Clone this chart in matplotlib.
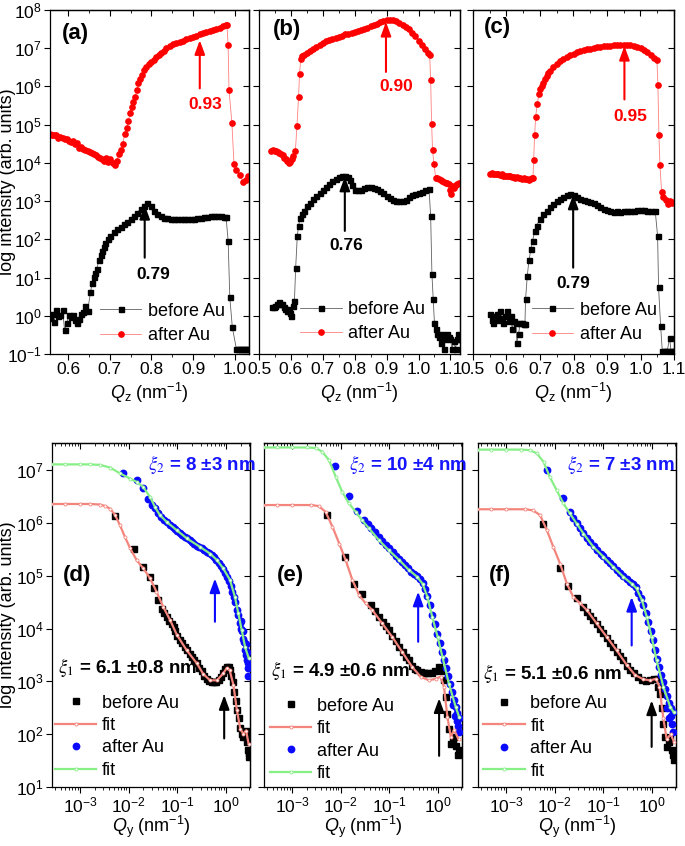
import numpy as np
import matplotlib
matplotlib.use('Agg')
import matplotlib.pyplot as plt
from matplotlib.ticker import (MultipleLocator, LogLocator, NullLocator, FixedLocator,
                               NullFormatter, FormatStrFormatter, LogFormatterSciNotation)

plt.rcParams['font.family'] = 'Liberation Sans'
plt.rcParams['mathtext.fontset'] = 'custom'
plt.rcParams['mathtext.rm'] = 'Liberation Sans'
plt.rcParams['mathtext.it'] = 'Liberation Sans:italic'
plt.rcParams['mathtext.bf'] = 'Liberation Sans:bold'
plt.rcParams['axes.linewidth'] = 0.9

# ---- top row: specular Qz scans, (Qz [nm^-1], log10 intensity) ----
a_before = np.array([(0.557,-0.05),(0.562,0.05),(0.567,-0.15),(0.572,0.15),(0.577,0.0),(0.582,0.02),(0.587,0.16),(0.592,-0.38),(0.597,-0.2),(0.602,0.03),(0.607,-0.02),(0.612,0.02),(0.617,-0.12),(0.622,-0.2),(0.627,-0.08),(0.632,0.05),(0.637,0.1),(0.642,0.25),(0.647,0.12),(0.654,0.61),(0.658,0.85),(0.662,1.02),(0.666,1.12),(0.669,1.22),(0.674,1.45),(0.679,1.58),(0.682,1.70),(0.686,1.80),(0.690,1.91),(0.696,2.00),(0.702,2.09),(0.710,2.18),(0.718,2.26),(0.726,2.33),(0.734,2.40),(0.742,2.46),(0.750,2.54),(0.758,2.62),(0.766,2.70),(0.774,2.79),(0.782,2.87),(0.790,2.96),(0.798,2.86),(0.806,2.74),(0.814,2.66),(0.822,2.61),(0.830,2.57),(0.838,2.55),(0.846,2.53),(0.854,2.52),(0.862,2.52),(0.870,2.52),(0.878,2.52),(0.886,2.52),(0.894,2.53),(0.902,2.54),(0.910,2.56),(0.918,2.57),(0.926,2.58),(0.934,2.59),(0.942,2.60),(0.950,2.61),(0.958,2.61),(0.966,2.60),(0.974,2.59),(0.979,2.58),(0.984,1.96),(0.988,0.48),(0.994,-0.30),(1.004,-0.88),(1.008,-0.88),(1.012,-0.88),(1.016,-0.88),(1.020,-0.88),(1.024,-0.88),(1.028,-0.88),(1.032,-0.88)])
a_after = np.array([(0.557,4.76),(0.562,4.74),(0.567,4.72),(0.572,4.73),(0.577,4.66),(0.582,4.67),(0.587,4.64),(0.592,4.62),(0.597,4.63),(0.602,4.58),(0.607,4.55),(0.612,4.57),(0.617,4.50),(0.622,4.52),(0.627,4.40),(0.632,4.42),(0.637,4.36),(0.642,4.35),(0.647,4.30),(0.652,4.28),(0.657,4.25),(0.662,4.22),(0.667,4.20),(0.672,4.16),(0.677,4.12),(0.682,4.10),(0.687,4.06),(0.692,4.14),(0.697,4.02),(0.702,4.10),(0.707,4.00),(0.712,3.95),(0.717,4.05),(0.722,4.23),(0.727,4.35),(0.731,4.50),(0.736,4.75),(0.741,4.91),(0.745,5.10),(0.749,5.30),(0.753,5.45),(0.757,5.60),(0.761,5.72),(0.765,5.90),(0.769,6.08),(0.773,6.20),(0.777,6.30),(0.782,6.42),(0.788,6.50),(0.794,6.58),(0.800,6.63),(0.806,6.69),(0.812,6.76),(0.818,6.82),(0.824,6.88),(0.830,6.93),(0.836,7.00),(0.844,7.05),(0.852,7.10),(0.860,7.13),(0.868,7.17),(0.876,7.20),(0.884,7.23),(0.892,7.26),(0.900,7.30),(0.908,7.33),(0.916,7.37),(0.924,7.40),(0.932,7.42),(0.940,7.44),(0.948,7.47),(0.956,7.50),(0.964,7.54),(0.972,7.58),(0.978,7.61),(0.981,7.62),(0.984,7.08),(0.986,5.92),(0.993,5.05),(0.998,3.97),(1.004,3.81),(1.012,3.68),(1.020,3.51),(1.026,3.56),(1.032,3.65)])
b_before = np.array([(0.541,0.22),(0.546,0.24),(0.551,0.25),(0.556,0.30),(0.562,0.35),(0.567,0.30),(0.572,0.30),(0.577,0.22),(0.583,0.18),(0.588,0.13),(0.593,0.18),(0.597,0.08),(0.601,0.00),(0.606,0.26),(0.611,0.39),(0.615,1.26),(0.620,2.09),(0.624,2.35),(0.629,2.57),(0.634,2.66),(0.640,2.74),(0.650,2.86),(0.660,2.96),(0.670,3.05),(0.680,3.13),(0.690,3.21),(0.700,3.29),(0.710,3.38),(0.720,3.45),(0.730,3.52),(0.740,3.57),(0.750,3.62),(0.760,3.65),(0.770,3.67),(0.780,3.64),(0.785,3.55),(0.790,3.42),(0.800,3.30),(0.810,3.28),(0.820,3.30),(0.830,3.34),(0.840,3.37),(0.850,3.37),(0.860,3.35),(0.870,3.31),(0.880,3.26),(0.890,3.20),(0.900,3.13),(0.910,3.07),(0.920,3.03),(0.930,3.00),(0.940,2.99),(0.950,3.00),(0.960,3.04),(0.970,3.10),(0.980,3.15),(0.990,3.19),(1.000,3.22),(1.010,3.25),(1.020,3.28),(1.033,3.31),(1.038,2.61),(1.042,1.09),(1.046,0.44),(1.050,-0.20),(1.054,-0.35),(1.058,-0.48),(1.064,-0.55),(1.069,-0.70),(1.074,-0.48),(1.079,-0.87),(1.084,-0.60),(1.090,-0.48),(1.095,-0.55),(1.100,-0.60),(1.105,-0.87),(1.110,-0.65),(1.116,-0.87),(1.120,-0.60),(1.124,-0.48),(1.128,-0.60)])
b_after = np.array([(0.539,4.32),(0.544,4.33),(0.549,4.31),(0.554,4.30),(0.559,4.28),(0.564,4.27),(0.569,4.24),(0.574,4.20),(0.579,4.14),(0.584,4.10),(0.589,4.05),(0.594,4.00),(0.598,4.03),(0.603,4.10),(0.608,4.18),(0.614,4.31),(0.619,4.97),(0.624,5.73),(0.627,6.32),(0.631,6.73),(0.636,6.80),(0.640,6.82),(0.650,6.87),(0.660,6.93),(0.670,6.99),(0.680,7.04),(0.690,7.09),(0.700,7.14),(0.710,7.18),(0.720,7.21),(0.730,7.24),(0.740,7.27),(0.750,7.30),(0.760,7.33),(0.770,7.36),(0.780,7.38),(0.790,7.41),(0.800,7.43),(0.810,7.46),(0.820,7.48),(0.830,7.51),(0.840,7.54),(0.850,7.58),(0.860,7.61),(0.870,7.64),(0.880,7.68),(0.890,7.71),(0.900,7.73),(0.910,7.74),(0.920,7.73),(0.930,7.71),(0.940,7.67),(0.950,7.62),(0.960,7.56),(0.970,7.49),(0.980,7.41),(0.990,7.31),(1.000,7.20),(1.010,7.09),(1.020,6.98),(1.030,6.88),(1.035,6.82),(1.038,6.16),(1.041,5.03),(1.044,4.35),(1.048,3.98),(1.054,3.61),(1.059,3.60),(1.064,3.57),(1.069,3.55),(1.074,3.52),(1.079,3.50),(1.085,3.48),(1.090,3.47),(1.095,3.45),(1.100,3.30),(1.103,3.18),(1.106,3.40),(1.110,3.35),(1.116,3.42),(1.121,3.45),(1.127,3.47)])
c_before = np.array([(0.551,0.04),(0.556,-0.10),(0.561,-0.18),(0.566,0.00),(0.571,0.04),(0.576,-0.10),(0.581,0.13),(0.586,-0.05),(0.590,-0.18),(0.596,0.00),(0.602,0.13),(0.607,-0.13),(0.612,0.00),(0.617,-0.35),(0.622,-0.13),(0.628,-0.18),(0.631,-0.70),(0.636,-0.48),(0.641,-0.18),(0.646,-0.20),(0.651,-0.22),(0.655,-0.22),(0.657,0.44),(0.662,1.04),(0.667,1.45),(0.673,1.74),(0.678,1.96),(0.684,2.22),(0.690,2.36),(0.700,2.53),(0.710,2.65),(0.720,2.74),(0.730,2.84),(0.740,2.92),(0.750,2.99),(0.760,3.06),(0.770,3.11),(0.780,3.15),(0.790,3.18),(0.800,3.17),(0.810,3.12),(0.820,3.06),(0.830,3.02),(0.840,3.00),(0.850,2.98),(0.860,2.95),(0.870,2.89),(0.880,2.84),(0.890,2.80),(0.900,2.77),(0.910,2.73),(0.920,2.72),(0.930,2.73),(0.940,2.72),(0.950,2.73),(0.960,2.74),(0.970,2.74),(0.980,2.75),(0.990,2.76),(1.000,2.76),(1.010,2.76),(1.020,2.75),(1.030,2.74),(1.044,2.74),(1.051,2.09),(1.054,0.74),(1.060,-0.26),(1.065,-0.91),(1.070,-0.91),(1.075,-0.91),(1.080,-0.91),(1.087,-0.58),(1.091,-0.91),(1.095,-0.91),(1.099,-0.91)])
c_after = np.array([(0.551,3.72),(0.556,3.73),(0.561,3.72),(0.566,3.71),(0.571,3.72),(0.576,3.70),(0.581,3.69),(0.586,3.70),(0.591,3.67),(0.596,3.66),(0.601,3.67),(0.606,3.65),(0.611,3.66),(0.616,3.63),(0.621,3.62),(0.626,3.61),(0.631,3.63),(0.636,3.60),(0.641,3.61),(0.646,3.58),(0.651,3.60),(0.656,3.57),(0.661,3.58),(0.666,3.56),(0.671,3.57),(0.676,3.60),(0.679,3.61),(0.681,4.07),(0.684,4.72),(0.687,5.20),(0.692,5.55),(0.697,5.81),(0.701,5.94),(0.705,6.02),(0.710,6.10),(0.715,6.20),(0.720,6.28),(0.725,6.35),(0.730,6.40),(0.740,6.50),(0.750,6.59),(0.760,6.66),(0.770,6.72),(0.780,6.77),(0.790,6.82),(0.800,6.86),(0.810,6.89),(0.820,6.92),(0.830,6.95),(0.840,6.97),(0.850,6.99),(0.860,7.01),(0.870,7.03),(0.880,7.04),(0.890,7.05),(0.900,7.06),(0.910,7.07),(0.920,7.08),(0.930,7.085),(0.940,7.09),(0.950,7.09),(0.960,7.09),(0.970,7.08),(0.980,7.06),(0.990,7.03),(1.000,7.00),(1.010,6.95),(1.020,6.89),(1.030,6.82),(1.040,6.74),(1.049,6.69),(1.052,6.03),(1.055,4.72),(1.058,3.94),(1.063,3.25),(1.068,3.12),(1.075,3.03),(1.082,2.93),(1.088,2.99),(1.095,2.95),(1.099,2.97)])

# ---- bottom row: off-specular Qy cuts, (log10 Qy, log10 intensity) ----
d_before = np.array([(-2.28,6.13),(-1.90,5.50),(-1.70,5.17),(-1.56,4.98),(-1.48,4.76),(-1.39,4.54),(-1.32,4.38),(-1.27,4.30),(-1.22,4.22),(-1.17,4.15),(-1.12,4.08),(-1.08,4.03),(-1.04,3.95),(-1.00,3.86),(-0.95,3.78),(-0.90,3.72),(-0.85,3.65),(-0.80,3.59),(-0.75,3.52),(-0.70,3.46),(-0.65,3.40),(-0.60,3.34),(-0.55,3.26),(-0.50,3.19),(-0.45,3.11),(-0.40,3.05),(-0.35,3.00),(-0.30,2.98),(-0.25,2.98),(-0.20,2.99),(-0.15,3.02),(-0.10,3.08),(-0.06,3.15),(-0.02,3.23),(0.02,3.28),(0.05,3.27),(0.08,3.22),(0.11,3.10),(0.14,2.98),(0.17,2.80),(0.20,2.62),(0.23,2.45),(0.26,2.30),(0.29,2.12),(0.32,2.00),(0.35,1.95),(0.38,2.02),(0.41,2.06),(0.43,1.86),(0.44,1.95),(0.45,1.70),(0.46,1.65),(0.47,1.57)])
d_fit1 = np.array([(-3.60,6.36),(-3.30,6.36),(-3.00,6.36),(-2.80,6.36),(-2.59,6.35),(-2.48,6.32),(-2.38,6.27),(-2.28,6.15),(-2.18,5.96),(-2.08,5.74),(-1.97,5.52),(-1.84,5.30),(-1.70,5.14),(-1.56,4.95),(-1.43,4.70),(-1.29,4.41),(-1.15,4.16),(-1.01,3.88),(-0.81,3.59),(-0.60,3.34),(-0.47,3.14),(-0.33,3.02),(-0.19,3.02),(-0.06,3.15),(0.01,3.25),(0.07,3.22),(0.15,2.93),(0.22,2.46),(0.29,2.10),(0.35,2.01),(0.41,2.07),(0.46,1.82)])
d_after = np.array([(-2.11,6.95),(-1.84,6.81),(-1.70,6.66),(-1.60,6.46),(-1.53,6.34),(-1.46,6.28),(-1.40,6.18),(-1.34,6.12),(-1.28,6.06),(-1.22,6.02),(-1.16,5.97),(-1.10,5.92),(-1.05,5.88),(-1.00,5.85),(-0.95,5.81),(-0.90,5.77),(-0.85,5.74),(-0.80,5.71),(-0.75,5.68),(-0.70,5.64),(-0.65,5.61),(-0.60,5.57),(-0.55,5.55),(-0.50,5.52),(-0.45,5.49),(-0.40,5.46),(-0.35,5.43),(-0.30,5.40),(-0.25,5.35),(-0.20,5.30),(-0.15,5.24),(-0.10,5.18),(-0.06,5.13),(-0.02,5.06),(0.02,4.98),(0.06,4.90),(0.10,4.80),(0.13,4.70),(0.16,4.60),(0.19,4.50),(0.22,4.35),(0.25,4.25),(0.28,4.10),(0.30,4.00),(0.30,4.15),(0.32,3.95),(0.34,3.80),(0.35,3.95),(0.36,3.75),(0.38,3.60),(0.40,3.50),(0.40,3.70),(0.42,3.40),(0.43,3.55),(0.44,3.25),(0.45,3.10),(0.45,3.35)])
d_fit2 = np.array([(-3.60,7.11),(-3.30,7.11),(-3.00,7.11),(-2.80,7.11),(-2.59,7.10),(-2.38,7.05),(-2.18,6.94),(-1.97,6.84),(-1.84,6.78),(-1.70,6.68),(-1.56,6.49),(-1.46,6.30),(-1.36,6.15),(-1.22,6.02),(-1.01,5.86),(-0.81,5.71),(-0.54,5.55),(-0.33,5.42),(-0.19,5.30),(-0.06,5.14),(0.08,4.92),(0.18,4.60),(0.25,4.29),(0.32,3.97),(0.39,3.65),(0.46,3.45)])

e_before = np.array([(-2.29,6.15),(-1.91,5.35),(-1.73,4.84),(-1.56,4.65),(-1.38,4.44),(-1.30,4.34),(-1.21,4.22),(-1.14,4.13),(-1.07,4.05),(-1.01,3.97),(-0.94,3.86),(-0.87,3.76),(-0.80,3.65),(-0.73,3.56),(-0.66,3.47),(-0.60,3.40),(-0.53,3.30),(-0.47,3.24),(-0.43,3.21),(-0.36,3.17),(-0.30,3.15),(-0.26,3.15),(-0.20,3.15),(-0.12,3.15),(-0.06,3.20),(0.02,3.28),(0.07,3.20),(0.12,3.02),(0.16,2.70),(0.19,2.39),(0.22,2.10),(0.26,1.82),(0.30,1.88),(0.33,1.95),(0.37,1.78),(0.40,1.60),(0.42,1.70)])
e_fit1 = np.array([(-3.60,6.34),(-3.30,6.34),(-3.00,6.34),(-2.60,6.34),(-2.45,6.32),(-2.31,6.21),(-2.17,5.93),(-2.03,5.61),(-1.90,5.30),(-1.76,4.92),(-1.62,4.63),(-1.49,4.48),(-1.35,4.35),(-1.15,4.10),(-0.94,3.84),(-0.74,3.56),(-0.53,3.27),(-0.36,3.09),(-0.19,3.02),(-0.05,3.05),(0.05,3.09),(0.12,2.90),(0.19,2.33),(0.26,1.95),(0.33,2.08),(0.42,1.90)])
e_after = np.array([(-2.12,7.08),(-1.84,6.51),(-1.66,6.23),(-1.52,6.05),(-1.45,5.98),(-1.38,5.90),(-1.30,5.82),(-1.22,5.73),(-1.15,5.66),(-1.08,5.59),(-1.00,5.52),(-0.93,5.45),(-0.86,5.38),(-0.80,5.32),(-0.74,5.26),(-0.68,5.20),(-0.62,5.14),(-0.56,5.08),(-0.50,5.03),(-0.44,4.99),(-0.38,4.94),(-0.32,4.87),(-0.27,4.75),(-0.22,4.62),(-0.17,4.45),(-0.12,4.26),(-0.07,4.08),(-0.02,3.90),(0.03,3.72),(0.08,3.55),(0.12,3.40),(0.16,3.25),(0.20,3.10),(0.24,2.95),(0.28,2.80),(0.30,2.55),(0.32,2.65),(0.35,2.35),(0.36,2.52),(0.38,2.25),(0.39,2.40),(0.40,2.15),(0.42,2.30),(0.42,2.05)])
e_fit2 = np.array([(-3.60,7.43),(-3.30,7.43),(-3.00,7.43),(-2.70,7.43),(-2.51,7.42),(-2.38,7.35),(-2.24,7.19),(-2.10,6.87),(-1.97,6.59),(-1.83,6.37),(-1.69,6.21),(-1.56,6.05),(-1.42,5.90),(-1.21,5.67),(-1.01,5.48),(-0.80,5.30),(-0.60,5.11),(-0.43,4.98),(-0.32,4.85),(-0.22,4.60),(-0.12,4.22),(-0.01,3.84),(0.09,3.46),(0.22,2.96),(0.36,2.52),(0.43,2.33)])

f_before = np.array([(-2.25,5.99),(-1.89,5.15),(-1.72,4.80),(-1.55,4.57),(-1.41,4.41),(-1.34,4.32),(-1.27,4.24),(-1.21,4.16),(-1.14,4.08),(-1.07,4.00),(-1.00,3.91),(-0.93,3.82),(-0.86,3.73),(-0.80,3.65),(-0.73,3.56),(-0.66,3.48),(-0.59,3.40),(-0.52,3.30),(-0.45,3.22),(-0.38,3.15),(-0.30,3.08),(-0.21,3.02),(-0.12,3.01),(-0.04,3.02),(0.04,3.04),(0.09,3.04),(0.13,2.90),(0.16,2.77),(0.20,2.50),(0.23,2.20),(0.27,1.95),(0.30,1.76),(0.34,1.85),(0.37,1.92),(0.40,1.70),(0.42,1.60),(0.44,1.51)])
f_fit1 = np.array([(-3.60,6.26),(-3.30,6.26),(-3.00,6.26),(-2.60,6.26),(-2.45,6.24),(-2.30,6.15),(-2.16,5.86),(-2.03,5.55),(-1.89,5.23),(-1.75,4.85),(-1.62,4.60),(-1.48,4.48),(-1.34,4.35),(-1.14,4.10),(-0.93,3.84),(-0.73,3.59),(-0.52,3.31),(-0.35,3.12),(-0.18,3.04),(-0.04,3.02),(0.08,3.05),(0.15,2.90),(0.23,2.30),(0.30,1.90),(0.38,2.00),(0.45,1.85)])
f_after = np.array([(-2.15,7.00),(-1.84,6.48),(-1.69,6.21),(-1.62,6.10),(-1.55,6.00),(-1.48,5.90),(-1.41,5.81),(-1.34,5.72),(-1.27,5.64),(-1.20,5.56),(-1.13,5.49),(-1.06,5.42),(-1.00,5.37),(-0.93,5.30),(-0.86,5.24),(-0.80,5.18),(-0.73,5.11),(-0.66,5.05),(-0.59,4.99),(-0.52,4.93),(-0.46,4.89),(-0.40,4.84),(-0.34,4.78),(-0.28,4.68),(-0.23,4.58),(-0.18,4.44),(-0.13,4.30),(-0.08,4.12),(-0.03,3.95),(0.02,3.78),(0.06,3.60),(0.10,3.42),(0.14,3.28),(0.18,3.12),(0.22,2.98),(0.26,2.85),(0.30,2.72),(0.30,2.50),(0.34,2.60),(0.35,2.30),(0.38,2.50),(0.38,2.35),(0.40,2.20),(0.42,2.42),(0.43,2.05)])
f_fit2 = np.array([(-3.60,7.39),(-3.30,7.39),(-3.00,7.39),(-2.70,7.39),(-2.51,7.38),(-2.37,7.32),(-2.23,7.16),(-2.10,6.87),(-1.96,6.62),(-1.82,6.37),(-1.69,6.18),(-1.55,5.99),(-1.41,5.80),(-1.21,5.55),(-1.00,5.36),(-0.80,5.17),(-0.59,4.98),(-0.42,4.85),(-0.32,4.76),(-0.21,4.54),(-0.11,4.22),(-0.01,3.84),(0.09,3.40),(0.23,2.90),(0.37,2.52),(0.44,2.42)])

# annotations: (q, log tip, log tail, text q, text log, text, color)
top_notes = {
    'a': [(0.916, 7.21, 5.95, 0.930, 5.54, '0.93', 'red'), (0.784, 2.90, 1.52, 0.804, 1.07, '0.79', 'black')],
    'b': [(0.898, 7.69, 6.38, 0.929, 6.00, '0.90', 'red'), (0.769, 3.64, 2.22, 0.774, 1.83, '0.76', 'black')],
    'c': [(0.952, 7.06, 5.66, 0.969, 5.21, '0.95', 'red'), (0.799, 3.17, 1.26, 0.799, 0.84, '0.79', 'black')],
}
xi2_text = ['8 ±3 nm', '10 ±4 nm', '7 ±3 nm']
xi1_text = ['6.1 ±0.8 nm', '4.9 ±0.6 nm', '5.1 ±0.6 nm']
top_yticks = [10.0 ** k for k in range(-1, 9)]
bot_yticks = [10.0 ** k for k in range(1, 8)]
bot_xticks = [1e-3, 1e-2, 1e-1, 1.0]

W, H = 685, 846
fig = plt.figure(figsize=(W / 100, H / 100), dpi=100)

def rect(x0, y0, x1, y1):
    return [x0 / W, 1 - y1 / H, (x1 - x0) / W, (y1 - y0) / H]

FS = 13
top_rects = [rect(50, 10, 249, 354), rect(259, 10, 460, 354), rect(473, 10, 674, 354)]
top_xlim = [(0.557, 1.034), (0.5, 1.13), (0.5, 1.10)]
top_data = [(a_before, a_after), (b_before, b_after), (c_before, c_after)]
top_letter = [('(a)', 0.126, 0.933), ('(b)', 0.138, 0.942), ('(c)', 0.124, 0.948)]
top_leg = [(0.25, 0.089), (0.204, 0.094), (0.292, 0.092)]

for i, key in enumerate('abc'):
    ax = fig.add_axes(top_rects[i])
    before, after = top_data[i]
    lb, = ax.plot(before[:, 0], 10 ** before[:, 1], '-', color='#606060', lw=0.6,
                  marker='s', ms=3.6, mfc='black', mec='black', label='before Au')
    lr, = ax.plot(after[:, 0], 10 ** after[:, 1], '-', color='#ff8080', lw=0.6,
                  marker='o', ms=3.8, mfc='red', mec='red', label='after Au')
    ax.set_yscale('log')
    ax.set_xlim(*top_xlim[i])
    ax.set_ylim(0.1, 1e8)
    ax.xaxis.set_major_locator(MultipleLocator(0.1))
    ax.xaxis.set_minor_locator(MultipleLocator(0.05))
    ax.xaxis.set_major_formatter(FormatStrFormatter('%.1f'))
    ax.yaxis.set_major_locator(FixedLocator(top_yticks))
    ax.yaxis.set_minor_locator(NullLocator())
    if i == 0:
        ax.yaxis.set_major_formatter(LogFormatterSciNotation())
    else:
        ax.yaxis.set_major_formatter(NullFormatter())
    ax.tick_params(which='both', direction='out', labelsize=FS - 0.5, pad=2)
    ax.tick_params(which='major', length=4)
    ax.tick_params(which='minor', length=2.5)
    sx = ax.secondary_xaxis('top')
    sx.xaxis.set_major_locator(MultipleLocator(0.1))
    sx.xaxis.set_minor_locator(MultipleLocator(0.05))
    sx.xaxis.set_major_formatter(NullFormatter())
    sx.tick_params(which='both', direction='in')
    sx.tick_params(which='major', length=4)
    sx.tick_params(which='minor', length=2.5)
    sy = ax.secondary_yaxis('right')
    sy.yaxis.set_major_locator(FixedLocator(top_yticks))
    sy.yaxis.set_minor_locator(NullLocator())
    sy.yaxis.set_major_formatter(NullFormatter())
    sy.tick_params(which='both', direction='in', length=4)

    for q, tip, tail, tq, tl, txt, col in top_notes[key]:
        ax.annotate('', xy=(q, 10 ** tip), xytext=(q, 10 ** tail),
                    arrowprops=dict(arrowstyle='-|>,head_length=0.6,head_width=0.22',
                                    color=col, lw=1.5, mutation_scale=14,
                                    shrinkA=0, shrinkB=0))
        ax.text(tq, 10 ** tl, txt, color=col, fontsize=FS - 0.5, fontweight='bold',
                ha='center', va='center')
    lt, xf, yf = top_letter[i]
    ax.text(xf, yf, lt, transform=ax.transAxes, fontsize=16, fontweight='bold',
            ha='center', va='center')
    ax.legend(handles=[lb, lr], loc='center left', bbox_to_anchor=top_leg[i],
              frameon=False, fontsize=FS, handlelength=2.3, handletextpad=0.35,
              borderpad=0, borderaxespad=0, labelspacing=0.4, numpoints=1)
    x0, y0, w, h = top_rects[i]
    fig.text(x0 + w / 2, 1 - 393 / H, r'$Q_\mathrm{z}$ (nm$^{-1}$)', ha='center',
             va='center', fontsize=FS)

bot_rects = [rect(52, 443, 250, 787), rect(264, 443, 462, 787), rect(478, 443, 676, 787)]
bot_data = [(d_before, d_fit1, d_after, d_fit2), (e_before, e_fit1, e_after, e_fit2),
            (f_before, f_fit1, f_after, f_fit2)]
bot_letter = [('(d)', 0.126, 0.616), ('(e)', 0.131, 0.616), ('(f)', 0.111, 0.616)]
bot_leg = [(0.015, 0.146), (0.03, 0.137), (0.027, 0.144)]
# arrows: (log q blue, tail, tip), (log q black, tail, tip)
bot_arrows = [((-0.23, 4.13, 4.95), (-0.04, 1.92, 2.74)),
              ((-0.41, 3.75, 4.70), (0.02, 1.59, 2.68)),
              ((-0.42, 3.68, 4.60), (-0.01, 1.76, 2.64))]
xi2_pos = [(-1.60, 7.10), (-1.83, 7.11), (-1.75, 7.10)]
xi1_pos = [(-3.45, 3.27), (-3.44, 3.21), (-3.47, 3.15)]

for i in range(3):
    ax = fig.add_axes(bot_rects[i])
    before, fit1, after, fit2 = bot_data[i]
    hb, = ax.plot(10 ** before[:, 0], 10 ** before[:, 1], 's', color='black', ms=4.2,
                  ls='none', label='before Au', zorder=2)
    hf1, = ax.plot(10 ** fit1[:, 0], 10 ** fit1[:, 1], '-', color='#f4857c', lw=1.6,
                   marker='o', ms=2.2, mfc='white', mec='#f4857c', mew=0.6, label='fit', zorder=4)
    ha, = ax.plot(10 ** after[:, 0], 10 ** after[:, 1], 'o', color='#0a0aff', ms=4.6,
                  ls='none', label='after Au', zorder=3)
    hf2, = ax.plot(10 ** fit2[:, 0], 10 ** fit2[:, 1], '-', color='#86ef86', lw=1.6,
                   marker='o', ms=2.2, mfc='white', mec='#86ef86', mew=0.6, label='fit', zorder=5)
    ax.set_xscale('log')
    ax.set_yscale('log')
    ax.set_xlim(10 ** -3.575, 10 ** 0.49)
    ax.set_ylim(10, 10 ** 7.515)
    ax.xaxis.set_major_locator(FixedLocator(bot_xticks))
    ax.xaxis.set_major_formatter(LogFormatterSciNotation())
    ax.xaxis.set_minor_locator(LogLocator(base=10, subs=np.arange(2, 10), numticks=20))
    ax.xaxis.set_minor_formatter(NullFormatter())
    ax.yaxis.set_major_locator(FixedLocator(bot_yticks))
    ax.yaxis.set_minor_locator(NullLocator())
    if i == 0:
        ax.yaxis.set_major_formatter(LogFormatterSciNotation())
    else:
        ax.yaxis.set_major_formatter(NullFormatter())
    ax.tick_params(which='both', direction='out', labelsize=FS - 0.5, pad=2)
    ax.tick_params(which='major', length=4)
    ax.tick_params(which='minor', length=2.5)
    sx = ax.secondary_xaxis('top')
    sx.xaxis.set_major_locator(FixedLocator(bot_xticks))
    sx.xaxis.set_minor_locator(LogLocator(base=10, subs=np.arange(2, 10), numticks=20))
    sx.xaxis.set_major_formatter(NullFormatter())
    sx.xaxis.set_minor_formatter(NullFormatter())
    sx.tick_params(which='both', direction='in')
    sx.tick_params(which='major', length=4)
    sx.tick_params(which='minor', length=2.5)
    sy = ax.secondary_yaxis('right')
    sy.yaxis.set_major_locator(FixedLocator(bot_yticks))
    sy.yaxis.set_minor_locator(NullLocator())
    sy.yaxis.set_major_formatter(NullFormatter())
    sy.tick_params(which='both', direction='in', length=4)

    for (lq, tail, tip), col in zip(bot_arrows[i], ['#0a0aff', 'black']):
        ax.annotate('', xy=(10 ** lq, 10 ** tip), xytext=(10 ** lq, 10 ** tail),
                    arrowprops=dict(arrowstyle='-|>,head_length=0.6,head_width=0.22',
                                    color=col, lw=1.5, mutation_scale=14,
                                    shrinkA=0, shrinkB=0))
    ax.text(10 ** xi2_pos[i][0], 10 ** xi2_pos[i][1], r'$\xi_2$ = ' + xi2_text[i],
            color='#1515ff', fontsize=FS + 0.5, fontweight='bold', math_fontfamily='stix',
            ha='left', va='center')
    ax.text(10 ** xi1_pos[i][0], 10 ** xi1_pos[i][1], r'$\xi_1$ = ' + xi1_text[i],
            color='black', fontsize=FS + 0.5, fontweight='bold', math_fontfamily='stix',
            ha='left', va='center')
    lt, xf, yf = bot_letter[i]
    ax.text(xf, yf, lt, transform=ax.transAxes, fontsize=16, fontweight='bold',
            ha='center', va='center')
    ax.legend(handles=[hb, hf1, ha, hf2], loc='center left', bbox_to_anchor=bot_leg[i],
              frameon=False, fontsize=FS, handlelength=2.3, handletextpad=0.3,
              borderpad=0, borderaxespad=0, labelspacing=0.3, numpoints=1)
    x0, y0, w, h = bot_rects[i]
    fig.text(x0 + w / 2, 1 - 827 / H, r'$Q_\mathrm{y}$ (nm$^{-1}$)', ha='center',
             va='center', fontsize=FS)

fig.text(8 / W, 1 - 182 / H, 'log intensity (arb. units)', rotation=90,
         ha='center', va='center', fontsize=FS)
fig.text(8 / W, 1 - 615 / H, 'log intensity (arb. units)', rotation=90,
         ha='center', va='center', fontsize=FS)

fig.savefig('out.png', dpi=100)
